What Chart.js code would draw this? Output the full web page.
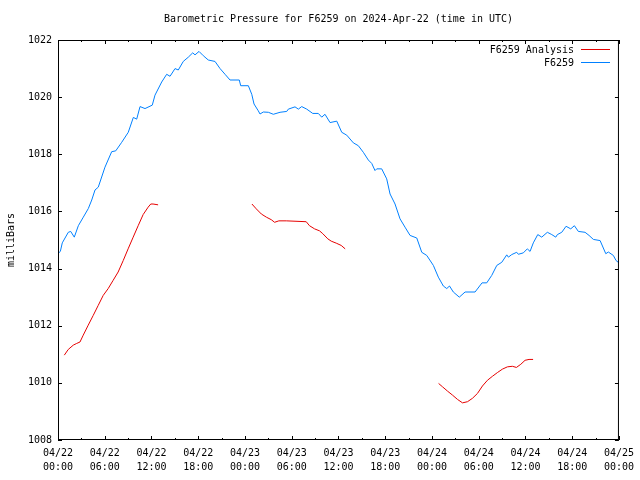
<!DOCTYPE html>
<html>
<head>
<meta charset="utf-8">
<script src="https://cdn.jsdelivr.net/npm/chart.js@4/dist/chart.umd.min.js"></script>
<style>
  html, body { margin: 0; padding: 0; background: #fff; }
  #wrap { width: 640px; height: 480px; }
</style>
</head>
<body>
<div id="wrap"><canvas id="pressureChart" width="640" height="480"></canvas></div>
<script>
// hours since 2024-04-22 00:00 UTC, pressures in millibars
const stationHours = [0.1, 0.3, 0.55, 1.32, 1.63, 2.09, 2.61, 3.25, 3.89, 4.33, 4.75, 5.17, 6.03, 6.89, 7.41, 8.18,
  9.02, 9.67, 10.1, 10.53, 11.17, 12.1, 12.45, 13.31, 13.95, 14.38, 15.02, 15.44, 16.08, 16.73, 17.29, 17.59,
  18.1, 18.65, 19.29, 20.15, 20.8, 21.44, 22.08, 23.27, 23.45, 24.43, 24.87, 25.16, 25.71, 25.93, 26.35, 27.0,
  27.64, 28.5, 29.36, 29.56, 30.42, 30.85, 31.28, 31.93, 32.7, 33.41, 33.85, 34.27, 34.92, 35.78, 36.42, 37.06,
  37.91, 38.55, 39.19, 39.83, 40.27, 40.69, 40.91, 41.55, 42.19, 42.62, 43.26, 43.9, 44.54, 45.19, 46.05, 46.69,
  47.33, 48.18, 48.82, 49.46, 49.9, 50.25, 50.74, 51.51, 52.25, 53.53, 54.43, 55.03, 55.67, 56.32, 56.96, 57.6,
  57.81, 58.24, 58.88, 59.09, 59.73, 60.24, 60.59, 61.01, 61.58, 62.09, 62.81, 63.38, 63.89, 64.1, 64.66, 65.21,
  65.81, 66.28, 66.79, 67.65, 68.16, 68.72, 69.58, 70.31, 70.64, 71.28, 71.63, 72];
const stationPressure = [1014.55, 1014.6, 1014.9, 1015.27, 1015.3, 1015.1, 1015.5, 1015.8, 1016.1, 1016.4, 1016.75, 1016.85, 1017.55, 1018.09, 1018.12, 1018.42,
  1018.77, 1019.29, 1019.23, 1019.67, 1019.6, 1019.72, 1020.07, 1020.53, 1020.8, 1020.73, 1021.0, 1020.95, 1021.25, 1021.4, 1021.55, 1021.48,
  1021.6, 1021.45, 1021.3, 1021.25, 1021.0, 1020.8, 1020.6, 1020.6, 1020.4, 1020.4, 1020.1, 1019.76, 1019.52, 1019.41, 1019.48, 1019.47,
  1019.4, 1019.47, 1019.5, 1019.58, 1019.66, 1019.58, 1019.67, 1019.58, 1019.43, 1019.43, 1019.3, 1019.4, 1019.11, 1019.16, 1018.77, 1018.67,
  1018.4, 1018.3, 1018.07, 1017.8, 1017.68, 1017.43, 1017.49, 1017.49, 1017.14, 1016.61, 1016.26, 1015.74, 1015.45, 1015.16, 1015.07, 1014.57,
  1014.46, 1014.11, 1013.7, 1013.39, 1013.3, 1013.39, 1013.18, 1013.0, 1013.18, 1013.18, 1013.5, 1013.5, 1013.76, 1014.11, 1014.22, 1014.48,
  1014.4, 1014.49, 1014.57, 1014.5, 1014.55, 1014.69, 1014.6, 1014.9, 1015.19, 1015.1, 1015.27, 1015.19, 1015.1, 1015.19, 1015.27, 1015.48,
  1015.39, 1015.5, 1015.3, 1015.27, 1015.16, 1015.02, 1014.98, 1014.52, 1014.58, 1014.46, 1014.28, 1014.2];

// analysis series, null = gap between runs
const analysisHours = [0.81, 1.32, 1.96, 2.4, 2.82, 3.24, 3.88, 4.52, 5.16, 5.8, 6.44, 7.08, 7.72, 8.37, 9.0, 9.65,
  10.29, 10.93, 11.57, 11.91, 12.2, 12.85, 18.5,
  24.89, 25.45, 26.1, 26.74, 27.38, 27.8, 28.35, 29.3, 31.86, 32.28, 32.93, 33.57, 33.99, 34.63, 35.07, 35.71,
  36.35, 36.86, 42.5,
  48.85, 49.36, 50.0, 50.64, 51.28, 51.92, 52.56, 53.2, 53.84, 54.48, 55.12, 55.76, 56.4, 57.04, 57.68, 58.32,
  58.84, 59.4, 59.95, 60.46, 60.98];
const analysisPressure = [1010.97, 1011.17, 1011.32, 1011.38, 1011.43, 1011.67, 1012.02, 1012.36, 1012.71, 1013.06, 1013.3, 1013.59, 1013.88, 1014.28, 1014.69, 1015.1,
  1015.5, 1015.89, 1016.15, 1016.26, 1016.26, 1016.23, null,
  1016.26, 1016.09, 1015.91, 1015.8, 1015.71, 1015.62, 1015.67, 1015.67, 1015.64, 1015.5, 1015.39, 1015.32, 1015.22, 1015.04, 1014.96, 1014.89,
  1014.81, 1014.69, null,
  1009.98, 1009.86, 1009.71, 1009.57, 1009.42, 1009.3, 1009.34, 1009.46, 1009.63, 1009.89, 1010.09, 1010.23, 1010.36, 1010.48, 1010.56, 1010.58,
  1010.54, 1010.65, 1010.79, 1010.82, 1010.82];

const yTicks = [1008, 1010, 1012, 1014, 1016, 1018, 1020, 1022];
const dayLabels = ['04/22', '04/23', '04/24', '04/25'];
const hourLabels = ['00:00', '06:00', '12:00', '18:00'];

const titleText = 'Barometric Pressure for F6259 on 2024-Apr-22 (time in UTC)';
const FONT = '"DejaVu Sans Mono", "Liberation Mono", monospace';
const RED = 'rgb(230,0,0)';
const BLUE = 'rgb(0,128,255)';

function toPoints(xs, ys) {
    return xs.map((x, i) => ({ x: x, y: ys[i] }));
}

// frame, inward ticks, title, axis title and legend (gnuplot look)
const gnuplotFrame = {
    id: 'gnuplotFrame',
    afterDraw(chart) {
        const ctx = chart.ctx;
        const a = chart.chartArea;
        const xs = chart.scales.x;
        const ys = chart.scales.y;
        ctx.save();
        ctx.strokeStyle = '#000';
        ctx.lineWidth = 1;
        ctx.strokeRect(a.left + 0.5, a.top + 0.5, a.right - a.left - 1, a.bottom - a.top - 1);

        ctx.beginPath();
        for (let h = 0; h <= 72; h += 3) {
            const px = Math.round(xs.getPixelForValue(h)) + 0.5;
            const len = h % 6 === 0 ? 4 : 2;
            ctx.moveTo(px, a.bottom);
            ctx.lineTo(px, a.bottom - len);
            ctx.moveTo(px, a.top);
            ctx.lineTo(px, a.top + len);
        }
        yTicks.forEach(v => {
            const py = Math.round(ys.getPixelForValue(v)) + 0.5;
            ctx.moveTo(a.left, py);
            ctx.lineTo(a.left + 4, py);
            ctx.moveTo(a.right, py);
            ctx.lineTo(a.right - 4, py);
        });
        ctx.stroke();

        ctx.fillStyle = '#000';
        ctx.font = '10px ' + FONT;
        ctx.textAlign = 'center';
        ctx.textBaseline = 'middle';
        ctx.fillText(titleText, (a.left + a.right) / 2, 19);

        ctx.save();
        ctx.translate(11, (a.top + a.bottom) / 2);
        ctx.rotate(-Math.PI / 2);
        ctx.fillText('milliBars', 0, 0);
        ctx.restore();

        // legend
        ctx.textAlign = 'right';
        const rows = [['F6259 Analysis', RED, 50], ['F6259', BLUE, 63]];
        rows.forEach(r => {
            ctx.fillStyle = '#000';
            ctx.fillText(r[0], 574, r[2]);
            ctx.strokeStyle = r[1];
            ctx.beginPath();
            ctx.moveTo(581, r[2] - 0.5);
            ctx.lineTo(610, r[2] - 0.5);
            ctx.stroke();
        });
        ctx.restore();
    }
};

new Chart(document.getElementById('pressureChart'), {
    type: 'line',
    data: {
        datasets: [
            {
                label: 'F6259 Analysis',
                data: toPoints(analysisHours, analysisPressure),
                borderColor: RED,
                borderWidth: 1,
                pointRadius: 0,
                spanGaps: false,
                tension: 0
            },
            {
                label: 'F6259',
                data: toPoints(stationHours, stationPressure),
                borderColor: BLUE,
                borderWidth: 1,
                pointRadius: 0,
                tension: 0
            }
        ]
    },
    options: {
        responsive: false,
        animation: false,
        layout: { padding: { top: 40, right: 19, left: 0, bottom: 0 } },
        plugins: {
            legend: { display: false },
            title: { display: false },
            tooltip: { enabled: false }
        },
        scales: {
            x: {
                type: 'linear',
                min: 0,
                max: 72,
                grid: { display: false, drawTicks: false },
                border: { display: false },
                afterFit(scale) { scale.height = 40; },
                afterBuildTicks(scale) {
                    scale.ticks = [];
                    for (let h = 0; h <= 72; h += 6) scale.ticks.push({ value: h });
                },
                ticks: {
                    autoSkip: false,
                    maxRotation: 0,
                    padding: 6,
                    color: '#000',
                    font: { family: FONT, size: 10, lineHeight: 1.4 },
                    callback(value) {
                        return [dayLabels[Math.floor(value / 24)], hourLabels[(value % 24) / 6]];
                    }
                }
            },
            y: {
                min: 1008,
                max: 1022,
                grid: { display: false, drawTicks: false },
                border: { display: false },
                afterFit(scale) { scale.width = 58; },
                afterBuildTicks(scale) {
                    scale.ticks = yTicks.map(v => ({ value: v }));
                },
                ticks: {
                    padding: 6,
                    color: '#000',
                    font: { family: FONT, size: 10 },
                    callback(value) { return String(value); }
                }
            }
        }
    },
    plugins: [gnuplotFrame]
});
</script>
</body>
</html>
